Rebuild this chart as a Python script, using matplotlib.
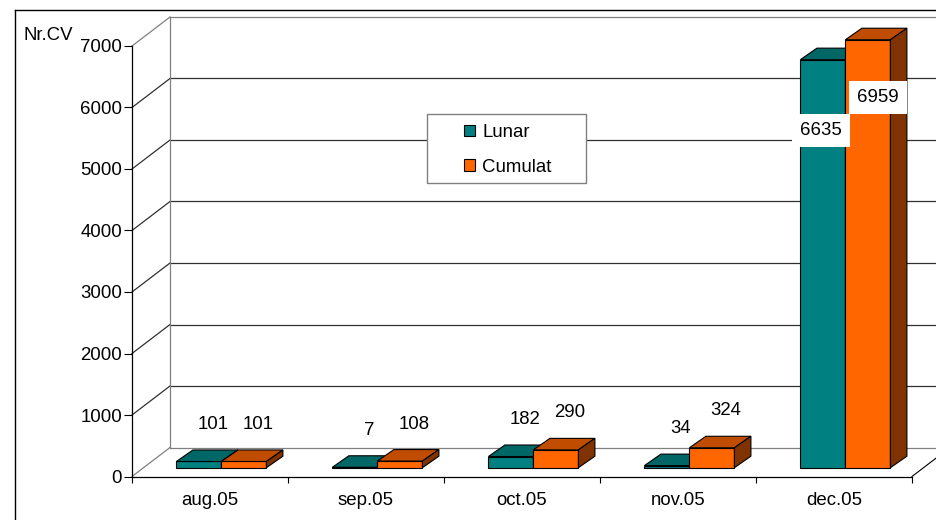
import matplotlib
matplotlib.use('Agg')
import matplotlib.pyplot as plt
from matplotlib.patches import Polygon, Rectangle
from matplotlib.lines import Line2D

# ---- data ----
categories = ['aug.05', 'sep.05', 'oct.05', 'nov.05', 'dec.05']
lunar = [101, 7, 182, 34, 6635]
cumulat = [101, 108, 290, 324, 6959]
series_names = ['Lunar', 'Cumulat']
yticks = [0, 1000, 2000, 3000, 4000, 5000, 6000, 7000]
y_title = 'Nr.CV'

plt.rcParams['font.family'] = ['Liberation Sans', 'DejaVu Sans']
FS = 13.4

W, H = 937, 520
fig = plt.figure(figsize=(W / 100, H / 100), dpi=100)
fig.patch.set_facecolor('white')

px_l, px_r, px_b, px_t = 132, 912, 476.5, 46
ax = fig.add_axes([px_l / W, (H - px_b) / H, (px_r - px_l) / W, (px_b - px_t) / H])
ax.set_xlim(0, len(categories))
ax.set_ylim(0, yticks[-1])
ax.patch.set_visible(False)

px_per_cat = (px_r - px_l) / len(categories)
px_per_unit = (px_b - px_t) / yticks[-1]


def dxc(p):
    return p / px_per_cat


def dyv(p):
    return p / px_per_unit


wall_dx, wall_dy = dxc(38), dyv(29)
floor_dx, floor_dy = dxc(11.4), dyv(8.8)
bar_ddx, bar_ddy = dxc(16.5), dyv(11.5)
gap, bw = dxc(33), dxc(45)

grid_dark = '#303030'
wall_gray = '#808080'

# back wall & left wall gridlines
for v in yticks:
    c = wall_gray if v in (yticks[0], yticks[-1]) else grid_dark
    ax.plot([0, wall_dx], [v, v + wall_dy], color=c, lw=0.9, clip_on=False, zorder=1)
    ax.plot([wall_dx, len(categories) + wall_dx + 0.5], [v + wall_dy, v + wall_dy],
            color=c, lw=0.9, clip_on=False, zorder=1)
ax.plot([wall_dx, wall_dx], [wall_dy, yticks[-1] + wall_dy], color=wall_gray, lw=0.9,
        clip_on=False, zorder=1)
ax.plot([len(categories), len(categories) + wall_dx], [0, wall_dy], color='black', lw=0.8,
        clip_on=False, zorder=1)

series = [
    (lunar, '#008080', '#006666', '#004d4d'),
    (cumulat, '#FF6600', '#C04C00', '#803300'),
]
containers = []
for s, (vals, cf, ct, cs) in enumerate(series):
    z = 3 + s
    xs = [i + floor_dx + gap + s * bw for i in range(len(categories))]
    bc = ax.bar(xs, vals, width=bw, bottom=floor_dy, align='edge', color=cf,
                edgecolor='black', lw=0.8, zorder=z, label=series_names[s])
    for p in bc.patches:
        p.set_clip_on(False)
    containers.append(bc)
    for x0, v in zip(xs, vals):
        top = floor_dy + v
        ax.add_patch(Polygon([(x0, top), (x0 + bw, top), (x0 + bw + bar_ddx, top + bar_ddy),
                              (x0 + bar_ddx, top + bar_ddy)], closed=True, facecolor=ct,
                             edgecolor='black', lw=0.8, zorder=z, clip_on=False))
        ax.add_patch(Polygon([(x0 + bw, floor_dy), (x0 + bw + bar_ddx, floor_dy + bar_ddy),
                              (x0 + bw + bar_ddx, top + bar_ddy), (x0 + bw, top)], closed=True,
                             facecolor=cs, edgecolor='black', lw=0.8, zorder=z, clip_on=False))
        cx = x0 + bw / 2
        if v > 3000:
            offx, offy = (-2, -71) if s == 0 else (10, -58)
            ax.annotate(str(v), (cx, top), xytext=(offx, offy), textcoords='offset pixels',
                        ha='center', va='center', fontsize=FS, zorder=7, annotation_clip=False,
                        bbox=dict(boxstyle='square,pad=0.42', facecolor='white', edgecolor='none'))
        else:
            ax.annotate(str(v), (cx, top), xytext=(14, 37), textcoords='offset pixels',
                        ha='center', va='center', fontsize=FS, zorder=7, annotation_clip=False)

# axes styling
for sp in ('top', 'right'):
    ax.spines[sp].set_visible(False)
for sp in ('left', 'bottom'):
    ax.spines[sp].set_linewidth(0.9)
    ax.spines[sp].set_color('black')
ax.set_yticks(yticks)
ax.set_yticklabels([str(t) for t in yticks], fontsize=FS)
ax.tick_params(axis='y', length=6, pad=1.2, width=0.8)
ax.set_xticks(range(len(categories) + 1))
ax.set_xticklabels([''] * (len(categories) + 1))
ax.tick_params(axis='x', which='major', length=4.5, width=0.8)
ax.set_xticks([i + 0.5 for i in range(len(categories))], minor=True)
ax.set_xticklabels(categories, minor=True, fontsize=FS)
ax.tick_params(axis='x', which='minor', length=0, pad=11.5)

# legend
fr = Rectangle((427 / W, 1 - 183 / H), 159 / W, 69 / H, transform=fig.transFigure,
               facecolor='white', edgecolor='#808080', lw=1.0, zorder=5, clip_on=False)
ax.add_patch(fr)
leg = ax.legend(handles=containers, labels=series_names, loc='upper left',
                bbox_to_anchor=(464 / W, 1 - 124 / H), bbox_transform=fig.transFigure,
                frameon=False, handlelength=0.58, handleheight=0.55, handletextpad=0.4,
                labelspacing=0.95, fontsize=FS, borderaxespad=0, borderpad=0)
leg.set_zorder(6)

fig.text(24 / W, 1 - 35 / H, y_title, ha='left', va='center', fontsize=FS)

# chart area border
fig.add_artist(Line2D([15 / W, 1], [1 - 10 / H, 1 - 10 / H], color='black', lw=1.0))
fig.add_artist(Line2D([15 / W, 15 / W], [0, 1 - 10 / H], color='black', lw=1.0))

fig.savefig('out.png', dpi=100)
